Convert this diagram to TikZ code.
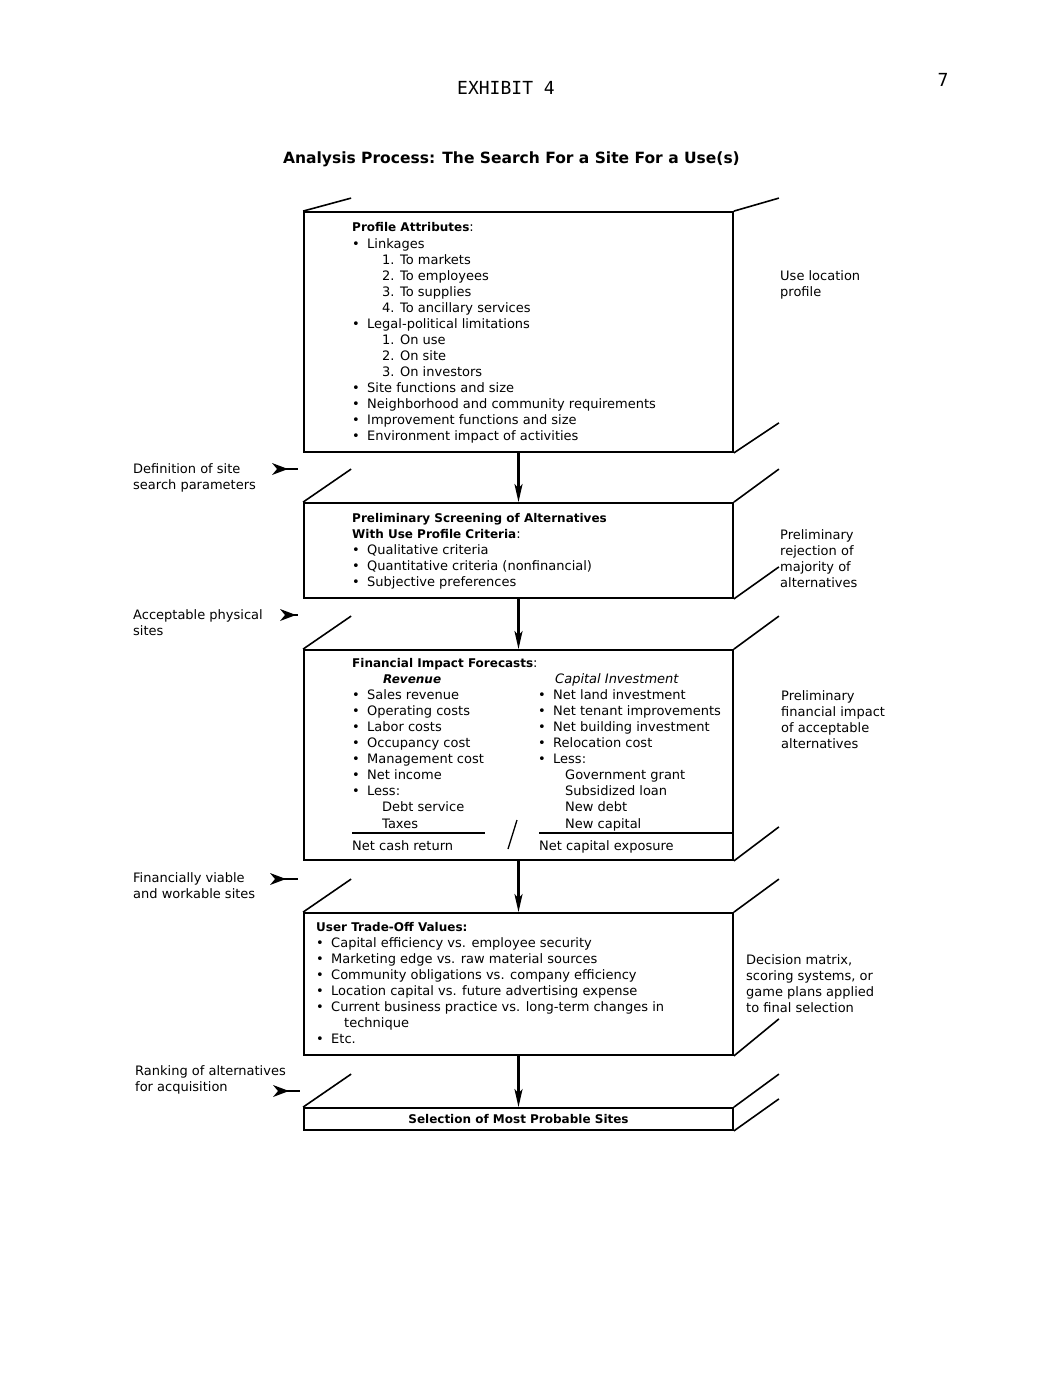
\documentclass[tikz,border=0pt]{standalone}
\usepackage{fontspec}
\setmainfont{DejaVu Sans}
\newfontfamily\monofont{DejaVu Sans Mono}
\usetikzlibrary{arrows.meta}
\newcommand\bul{\makebox[15pt][l]{\textbullet}}
\newcommand\hb[1]{{\fontsize{12}{14}\selectfont\bfseries #1}}
\begin{document}
\begin{tikzpicture}[x=1pt,y=-1pt,
  every node/.style={inner sep=0pt},
  txt/.style={anchor=base west, font=\fontsize{13}{15}\selectfont},
  box/.style={draw, line width=1.8pt, minimum width=429pt},
  slant/.style={line width=1.6pt},
  flow/.style={line width=2.2pt, -{Stealth[length=18pt,width=8pt,inset=4pt]}},
  rule/.style={line width=1.4pt},
  sidehead/.style={fill=black},
  sideline/.style={line width=1.8pt}
]
\useasboundingbox (0,0) rectangle (1064,1380);

% header
\node[anchor=base, font=\fontsize{18}{20}\selectfont\monofont] (exh) at (506,95) {EXHIBIT 4};
\node[anchor=base, font=\fontsize{18}{20}\selectfont\monofont] (pg) at (943,87) {7};
\node[anchor=base, font=\fontsize{15.5}{18}\selectfont\bfseries] (title) at (511.5,164) {Analysis Process: The Search For a Site For a Use(s)};

% boxes
\node[box, minimum height=240pt] (b1) at (518.5,332) {};
\node[box, minimum height=95pt] (b2) at (518.5,550.5) {};
\node[box, minimum height=210pt] (b3) at (518.5,755) {};
\node[box, minimum height=142pt] (b4) at (518.5,984) {};
\node[box, minimum height=22pt] (b5) at (518.5,1119) {};

% slanted perspective lines
\draw[slant] (b1.north west) -- ++(48,-13);
\draw[slant] (b1.north east) -- ++(45,-13);
\draw[slant] (b1.south east) -- ++(45,-30);
\foreach \b/\d in {b2/32, b3/34, b4/37, b5/32}{
  \draw[slant] (\b.north west) -- ++(48,-33);
  \draw[slant] (\b.north east) -- ++(45,-33);
  \draw[slant] (\b.south east) -- ++(45,-\d);
}

% flow arrows
\draw[flow] (b1.south) -- (b2.north);
\draw[flow] (b2.south) -- (b3.north);
\draw[flow] (b3.south) -- (b4.north);
\draw[flow] (b4.south) -- (b5.north);

% box 1 text
\foreach \t [count=\i from 0] in {
  {\hb{Profile Attributes}:},
  {\bul Linkages},
  {\hspace*{30pt}1. To markets},
  {\hspace*{30pt}2. To employees},
  {\hspace*{30pt}3. To supplies},
  {\hspace*{30pt}4. To ancillary services},
  {\bul Legal-political limitations},
  {\hspace*{30pt}1. On use},
  {\hspace*{30pt}2. On site},
  {\hspace*{30pt}3. On investors},
  {\bul Site functions and size},
  {\bul Neighborhood and community requirements},
  {\bul Improvement functions and size},
  {\bul Environment impact of activities}}
  \node[txt] (pa\i) at (352,232+16.07*\i) {\t};

% box 2 text
\foreach \t [count=\i from 0] in {
  {\hb{Preliminary Screening of Alternatives}},
  {\hb{With Use Profile Criteria}:},
  {\bul Qualitative criteria},
  {\bul Quantitative criteria (nonfinancial)},
  {\bul Subjective preferences}}
  \node[txt] (ps\i) at (352,522+16*\i) {\t};

% box 3 text
\node[txt] (fh) at (352,667) {\hb{Financial Impact Forecasts}:};
\node[txt] (frev) at (383,683.1) {\hb{\itshape Revenue}};
\node[txt] (fcap) at (555,683.1) {\itshape Capital Investment};
\foreach \t [count=\i from 2] in {
  {\bul Sales revenue},
  {\bul Operating costs},
  {\bul Labor costs},
  {\bul Occupancy cost},
  {\bul Management cost},
  {\bul Net income},
  {\bul Less:},
  {\hspace*{30pt}Debt service},
  {\hspace*{30pt}Taxes}}
  \node[txt] (fl\i) at (352,667+16.1*\i) {\t};
\foreach \t [count=\i from 2] in {
  {\bul Net land investment},
  {\bul Net tenant improvements},
  {\bul Net building investment},
  {\bul Relocation cost},
  {\bul Less:},
  {\hspace*{27pt}Government grant},
  {\hspace*{27pt}Subsidized loan},
  {\hspace*{27pt}New debt},
  {\hspace*{27pt}New capital}}
  \node[txt] (fr\i) at (538,667+16.1*\i) {\t};
\coordinate (rl1) at (352,833);
\coordinate (rl2) at (485,833);
\coordinate (rr1) at (539,833);
\draw[rule] (rl1) -- (rl2);
\draw[rule] (rr1) -- (rr1 -| b3.east);
\coordinate (sl1) at (508,849);
\coordinate (sl2) at (517,820);
\draw[line width=1.3pt] (sl1) -- (sl2);
\node[txt] (fnet) at (352,850.5) {Net cash return};
\node[txt] (fexp) at (539,850.5) {Net capital exposure};

% box 4 text
\foreach \t [count=\i from 0] in {
  {\hb{User Trade-Off Values:}},
  {\bul Capital efficiency vs. employee security},
  {\bul Marketing edge vs. raw material sources},
  {\bul Community obligations vs. company efficiency},
  {\bul Location capital vs. future advertising expense},
  {\bul Current business practice vs. long-term changes in},
  {\hspace*{28pt}technique},
  {\bul Etc.}}
  \node[txt] (ut\i) at (316,931+16.1*\i) {\t};

% box 5 text
\node[anchor=center, font=\fontsize{12}{14}\selectfont\bfseries] (sel) at (b5.center) {Selection of Most Probable Sites};

% right labels
\foreach \t [count=\i from 0] in {{Use location},{profile}}
  \node[txt] (rA\i) at (780,280+16*\i) {\t};
\foreach \t [count=\i from 0] in {{Preliminary},{rejection of},{majority of},{alternatives}}
  \node[txt] (rB\i) at (780,539+16*\i) {\t};
\foreach \t [count=\i from 0] in {{Preliminary},{financial impact},{of acceptable},{alternatives}}
  \node[txt] (rC\i) at (781,700+16.2*\i) {\t};
\foreach \t [count=\i from 0] in {{Decision matrix,},{scoring systems, or},{game plans applied},{to final selection}}
  \node[txt] (rD\i) at (746,964+16*\i) {\t};

% left labels
\foreach \t [count=\i from 0] in {{Definition of site},{search parameters}}
  \node[txt] (lA\i) at (133,473+16*\i) {\t};
\foreach \t [count=\i from 0] in {{Acceptable physical},{sites}}
  \node[txt] (lB\i) at (133,619+16*\i) {\t};
\foreach \t [count=\i from 0] in {{Financially viable},{and workable sites}}
  \node[txt] (lC\i) at (133,882+16*\i) {\t};
\foreach \t [count=\i from 0] in {{Ranking of alternatives},{for acquisition}}
  \node[txt] (lD\i) at (135,1075+16.5*\i) {\t};

% side pointers
\foreach \x/\y/\e in {272/469/298, 280/615/298, 270/879/298, 273/1091/300}{
  \fill[sidehead] (\x,\y-6) -- (\x+16,\y) -- (\x,\y+6) -- (\x+5,\y) -- cycle;
  \draw[sideline] (\x+10,\y) -- (\e,\y);
}
\end{tikzpicture}
\end{document}
